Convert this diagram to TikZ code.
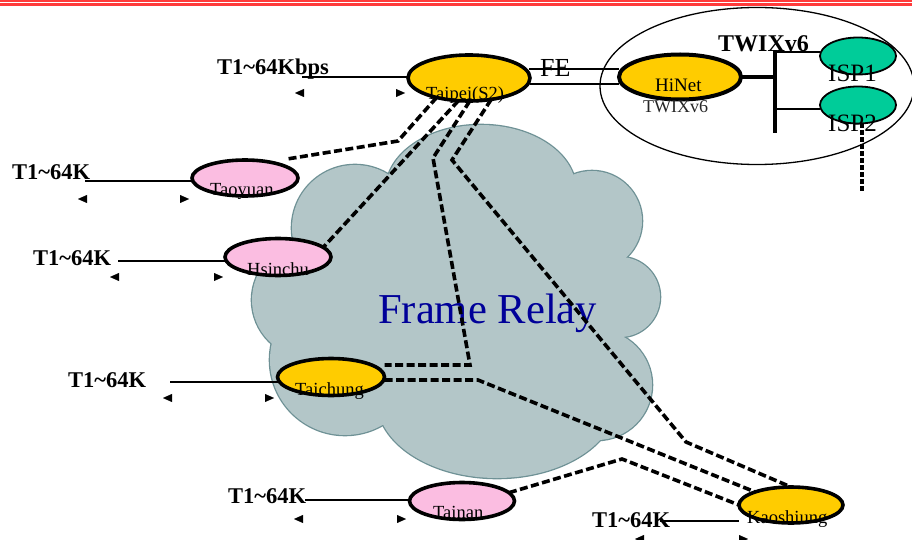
\documentclass[tikz,border=0pt]{standalone}
\usepackage{fontspec}
\setmainfont{Liberation Serif}
\usetikzlibrary{shapes.geometric,arrows.meta}
\definecolor{siteyellow}{HTML}{FFCC00}
\definecolor{sitepink}{HTML}{FBBDE1}
\definecolor{ispgreen}{HTML}{00CC99}
\definecolor{cloudfill}{HTML}{B3C6C8}
\definecolor{cloudedge}{HTML}{6E9195}
\definecolor{rulered}{HTML}{FF3B3B}
\definecolor{relayblue}{HTML}{000099}
\pgfdeclarelayer{cloudlayer}
\pgfdeclarelayer{links}
\pgfsetlayers{cloudlayer,links,main}
\begin{document}
\begin{tikzpicture}[x=1pt,y=-1pt,
  site/.style={ellipse,draw=black,line width=3.6pt,inner sep=0pt,outer sep=0pt},
  hub/.style={site,fill=siteyellow},
  branch/.style={site,fill=sitepink},
  isp/.style={ellipse,draw=black,line width=1.8pt,fill=ispgreen,inner sep=0pt,
    outer sep=0pt,minimum width=76pt,minimum height=37pt},
  pvc/.style={line width=3.6pt,dash pattern=on 8pt off 3.5pt},
  uplink/.style={line width=4pt,dash pattern=on 5pt off 2pt},
  access/.style={line width=1.4pt},
  feed/.style={line width=1.6pt},
  backbone/.style={line width=4.2pt},
  rangetips/.style={draw=white,line width=0.2pt,
    arrows={Triangle[length=9pt,width=8pt,color=black,fill=black]-Triangle[length=9pt,width=8pt,color=black,fill=black]}},
  rate/.style={font=\bfseries\fontsize{22.5}{27}\selectfont,anchor=base west,inner sep=0pt},
  sitename/.style={font=\fontsize{18.5}{22}\selectfont,anchor=base west,inner sep=0pt}]

\useasboundingbox (0,0) rectangle (912,540);

% header rules
\draw[rulered,line width=2.4pt] (0,1.2) -- (912,1.2);
\draw[rulered,line width=2.2pt] (0,4.6) -- (912,4.6);

% TWIX exchange boundary
\node[ellipse,draw=black,line width=1.3pt,inner sep=0pt,minimum width=314pt,minimum height=157pt] (twix) at (757,86) {};

% sites
\node[hub,minimum width=122pt,minimum height=46pt] (taipei) at (469,78) {};
\node[hub,line width=4pt,minimum width=122pt,minimum height=45pt] (hinet) at (680,77) {};
\node[branch,minimum width=106pt,minimum height=36pt] (taoyuan) at (245,178) {};
\node[branch,minimum width=106pt,minimum height=37pt] (hsinchu) at (278,257) {};
\node[hub,minimum width=107pt,minimum height=37pt] (taichung) at (331,377) {};
\node[branch,minimum width=105pt,minimum height=37pt] (tainan) at (462,501) {};
\node[hub,minimum width=104pt,minimum height=36pt] (kaoshiung) at (791,505) {};
\node[isp] (isp1) at (858,56) {};
\node[isp] (isp2) at (858,105) {};

% Frame Relay cloud built from overlapping lobes
\begin{pgfonlayer}{cloudlayer}
  \foreach \cx/\cy/\rx/\ry in {355/228/63/63, 481/190/95/65, 592/221/50/50, 620/297/40/40,
                               597/385/55/55, 497/400/120/78, 345/360/75/75, 310/300/58/58}
    \draw[cloudedge,line width=2.6pt] (\cx,\cy) ellipse[x radius=\rx,y radius=\ry];
  \foreach \cx/\cy/\rx/\ry in {355/228/63/63, 481/190/95/65, 592/221/50/50, 620/297/40/40,
                               597/385/55/55, 497/400/120/78, 345/360/75/75, 310/300/58/58}
    \fill[cloudfill] (\cx,\cy) ellipse[x radius=\rx,y radius=\ry];
  \fill[cloudfill] (355,228) -- (481,190) -- (592,221) -- (620,297) -- (597,385)
                   -- (497,400) -- (345,360) -- (310,300) -- cycle;
  \node[font=\fontsize{42.6}{50}\selectfont,text=relayblue,anchor=base west,inner sep=0pt]
    (relay) at (378,323) {Frame Relay};
\end{pgfonlayer}

% bend points of the virtual circuits
\coordinate (tyBend) at (398,141);
\coordinate (tcBendA) at (433,158);
\coordinate (tcBendB) at (470,365);
\coordinate (ksBendA) at (452,160);
\coordinate (ksBendB) at (686,442);
\coordinate (tcksBend) at (478,380);
\coordinate (tnksBend) at (622,459);
\coordinate (ispDrop) at (862,193);

% access line ends and rate spans
\coordinate (tpAcc) at (302,77);
\coordinate (tyAcc) at (85,181);
\coordinate (hcAcc) at (118,261);
\coordinate (tcAcc) at (170,382);
\coordinate (tnAcc) at (305,500);
\coordinate (ksAcc) at (660,521);
\coordinate (tpSpanL) at (295,93);   \coordinate (tpSpanR) at (405,93);
\coordinate (tySpanL) at (78,199);   \coordinate (tySpanR) at (189,199);
\coordinate (hcSpanL) at (110,277);  \coordinate (hcSpanR) at (223,277);
\coordinate (tcSpanL) at (163,398);  \coordinate (tcSpanR) at (274,398);
\coordinate (tnSpanL) at (294,519);  \coordinate (tnSpanR) at (406,519);
\coordinate (ksSpanL) at (635,539);  \coordinate (ksSpanR) at (748,539);

% TWIX switch fabric
\coordinate (barTop) at (775,50);
\coordinate (barBot) at (775,133);
\coordinate (isp1Tap) at (775,52);
\coordinate (isp2Tap) at (775,109);
\coordinate (feTop) at (529,69);
\coordinate (feBot) at (530,84);

\begin{pgfonlayer}{links}
  \draw[pvc] (taipei.211) -- (tyBend) -- ([shift={(3pt,6pt)}]taoyuan.north east);
  \draw[pvc] (taipei.245) -- (hsinchu.12);
  \draw[pvc] (taipei.272) -- (tcBendA) -- (tcBendB) -- ([yshift=12pt]taichung.east);
  \draw[pvc] (taipei.316) -- (ksBendA) -- (ksBendB) -- (kaoshiung.north);
  \draw[pvc] ([yshift=-3pt]taichung.east) -- (tcksBend) -- (kaoshiung.160);
  \draw[pvc] (tainan.10) -- (tnksBend) -- (kaoshiung.west);
  \draw[uplink] ([xshift=4pt]isp2.south) -- (ispDrop);

  \draw[access] (tpAcc) -- (tpAcc -| taipei.west);
  \draw[access] (tyAcc) -- (tyAcc -| taoyuan.west);
  \draw[access] (hcAcc) -- (hcAcc -| hsinchu.west);
  \draw[access] (tcAcc) -- (tcAcc -| taichung.west);
  \draw[access] (tnAcc) -- (tnAcc -| tainan.west);
  \draw[access] (ksAcc) -- (ksAcc -| kaoshiung.west);

  \draw[rangetips] (tpSpanL) -- (tpSpanR);
  \draw[rangetips] (tySpanL) -- (tySpanR);
  \draw[rangetips] (hcSpanL) -- (hcSpanR);
  \draw[rangetips] (tcSpanL) -- (tcSpanR);
  \draw[rangetips] (tnSpanL) -- (tnSpanR);
  \draw[rangetips] (ksSpanL) -- (ksSpanR);

  \draw[feed] (feTop) -- (feTop -| hinet.west);
  \draw[feed] (feBot) -- (feBot -| hinet.west);
  \draw[backbone] (barTop) -- (barBot);
  \draw[backbone] (hinet.east) -- (hinet.east -| barTop);
  \draw[feed] (isp1Tap) -- (isp1Tap -| isp1.west);
  \draw[feed] (isp2Tap) -- (isp2Tap -| isp2.west);
\end{pgfonlayer}

% labels
\node[rate] (tpRate) at (217,75) {T1\textasciitilde 64Kbps};
\node[rate] (tyRate) at (12,179) {T1\textasciitilde 64K};
\node[rate] (hcRate) at (33,265) {T1\textasciitilde 64K};
\node[rate] (tcRate) at (68,387) {T1\textasciitilde 64K};
\node[rate] (tnRate) at (228,503) {T1\textasciitilde 64K};
\node[rate] (ksRate) at (592,527) {T1\textasciitilde 64K};

\node[sitename] (tpName) at (426,100) {Taipei(S2)};
\node[sitename] (tyName) at (210,195) {Taoyuan};
\node[sitename] (hcName) at (247,275) {Hsinchu};
\node[sitename] (tcName) at (295,395) {Taichung};
\node[sitename] (tnName) at (433,518) {Tainan};
\node[sitename] (ksName) at (747,523) {Kaoshiung};

\node[font=\fontsize{26}{30}\selectfont,anchor=base west,inner sep=0pt] (feName) at (540,77) {FE};
\node[font=\fontsize{19}{23}\selectfont,anchor=base west,inner sep=0pt] (hinetName) at (655,92) {HiNet};
\node[font=\fontsize{18}{22}\selectfont,text=black!85,anchor=base west,inner sep=0pt] (hinetSub) at (643,113) {TWIXv6};
\node[font=\bfseries\fontsize{24}{28}\selectfont,anchor=base west,inner sep=0pt] (twixName) at (718,52) {TWIXv6};
\node[font=\fontsize{25}{29}\selectfont,anchor=base west,inner sep=0pt] (isp1Name) at (828,82) {ISP1};
\node[font=\fontsize{25}{29}\selectfont,anchor=base west,inner sep=0pt] (isp2Name) at (828,132) {ISP2};
\end{tikzpicture}
\end{document}
